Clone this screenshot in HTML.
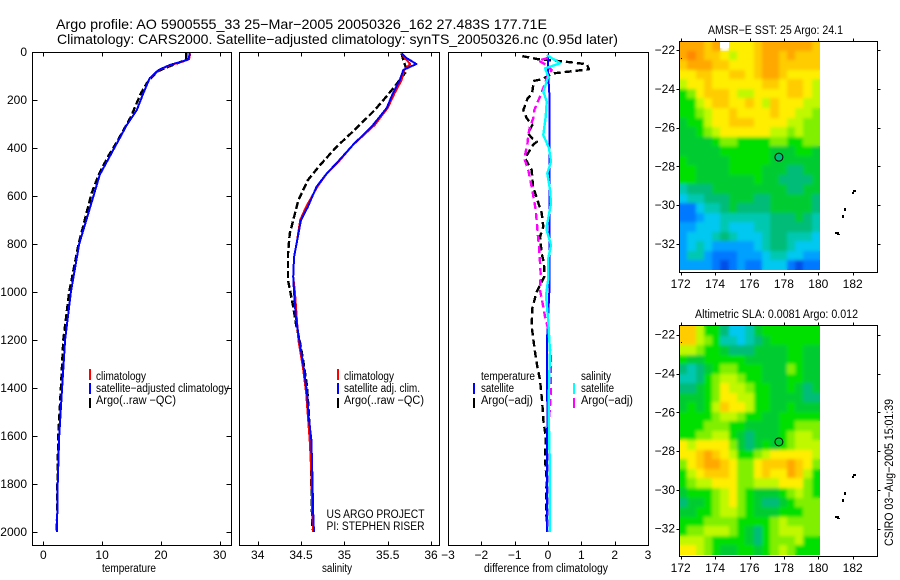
<!DOCTYPE html>
<html lang="en">
<head>
<meta charset="utf-8">
<title>Argo profile chart</title>
<style>
html,body{margin:0;padding:0;background:#fff;}
svg{display:block;font-family:"Liberation Sans",Arial,sans-serif;fill:#000;}
.frame{fill:none;stroke:#000;stroke-width:1;shape-rendering:crispEdges;}
.tick{stroke:#000;stroke-width:1;shape-rendering:crispEdges;}
.trace{fill:none;stroke-linejoin:round;shape-rendering:crispEdges;}
.tl{font-size:12px;}
.leg{font-size:11.5px;}
.ttl{font-size:14px;}
.axl{font-size:11.5px;}
.mttl{font-size:11.5px;}
</style>
</head>
<body>
<svg id="chart" width="900" height="580" viewBox="0 0 900 580" xmlns="http://www.w3.org/2000/svg">
<defs>
  <filter id="cell-soften" x="-5%" y="-5%" width="110%" height="110%"><feGaussianBlur stdDeviation="1.6"/></filter>
  <clipPath id="sst-clip"><rect x="679" y="42" width="141" height="228"/></clipPath>
  <clipPath id="sla-clip"><rect x="679" y="326" width="141" height="229"/></clipPath>
</defs>
<rect x="0" y="0" width="900" height="580" fill="#fff"/>
<text class="ttl" x="56" y="29" textLength="491" lengthAdjust="spacingAndGlyphs">Argo profile: AO 5900555_33 25−Mar−2005 20050326_162 27.483S 177.71E</text>
<text class="ttl" x="57" y="44" textLength="561" lengthAdjust="spacingAndGlyphs">Climatology: CARS2000. Satellite−adjusted climatology: synTS_20050326.nc (0.95d later)</text>

<g>
  <g id="temp-ticks"></g>
  <polyline id="temp-argo" class="trace" stroke="#000" stroke-width="2.4" stroke-dasharray="7 3"/>
  <polyline id="temp-clim" class="trace" stroke="#f00" stroke-width="2"/>
  <polyline id="temp-sat" class="trace" stroke="#00f" stroke-width="2"/>
  <rect class="frame" x="32.5" y="52.5" width="199" height="493"/>
  <g>
    <rect x="89" y="369" width="2" height="11" fill="#f00"/>
    <rect x="89" y="383" width="2" height="11" fill="#00f"/>
    <rect x="89" y="398" width="2" height="10" fill="#000"/>
    <text class="leg" x="96" y="380" textLength="50" lengthAdjust="spacingAndGlyphs">climatology</text>
    <text class="leg" x="96" y="392" textLength="133" lengthAdjust="spacingAndGlyphs">satellite−adjusted climatology</text>
    <text class="leg" x="96" y="404" textLength="80" lengthAdjust="spacingAndGlyphs">Argo(..raw −QC)</text>
  </g>
  <text class="axl" x="102" y="572" textLength="54" lengthAdjust="spacingAndGlyphs">temperature</text>
</g>

<g>
  <g id="sal-ticks"></g>
  <polyline id="sal-argo" class="trace" stroke="#000" stroke-width="2.4" stroke-dasharray="7 3"/>
  <polyline id="sal-clim" class="trace" stroke="#f00" stroke-width="2"/>
  <polyline id="sal-sat" class="trace" stroke="#00f" stroke-width="2"/>
  <rect class="frame" x="239.5" y="52.5" width="200" height="493"/>
  <g>
    <rect x="337" y="369" width="2" height="11" fill="#f00"/>
    <rect x="337" y="383" width="2" height="11" fill="#00f"/>
    <rect x="337" y="398" width="2" height="10" fill="#000"/>
    <text class="leg" x="344" y="380" textLength="50" lengthAdjust="spacingAndGlyphs">climatology</text>
    <text class="leg" x="344" y="392" textLength="76" lengthAdjust="spacingAndGlyphs">satellite adj. clim.</text>
    <text class="leg" x="344" y="404" textLength="80" lengthAdjust="spacingAndGlyphs">Argo(..raw −QC)</text>
  </g>
  <text class="leg" x="326.5" y="518" textLength="98" lengthAdjust="spacingAndGlyphs">US ARGO PROJECT</text>
  <text class="leg" x="326.5" y="530" textLength="98" lengthAdjust="spacingAndGlyphs">PI: STEPHEN RISER</text>
  <text class="axl" x="322" y="572" textLength="30" lengthAdjust="spacingAndGlyphs">salinity</text>
</g>

<g>
  <g id="diff-ticks"></g>
  <polyline id="diff-temp-argo" class="trace" stroke="#000" stroke-width="2.4" stroke-dasharray="7 4"/>
  <polyline id="diff-temp-sat" class="trace" stroke="#00f" stroke-width="2"/>
  <polyline id="diff-sal-argo" class="trace" stroke="#f0f" stroke-width="2.4" stroke-dasharray="7 4"/>
  <polyline id="diff-sal-sat" class="trace" stroke="#0ff" stroke-width="2.4"/>
  <rect class="frame" x="448.5" y="52.5" width="200" height="493"/>
  <g>
    <text class="leg" x="481" y="380" textLength="54" lengthAdjust="spacingAndGlyphs">temperature</text>
    <text class="leg" x="481" y="392" textLength="33" lengthAdjust="spacingAndGlyphs">satellite</text>
    <text class="leg" x="481" y="404" textLength="52" lengthAdjust="spacingAndGlyphs">Argo(−adj)</text>
    <rect x="473" y="383" width="2" height="11" fill="#00f"/>
    <rect x="473" y="398" width="2" height="10" fill="#000"/>
    <text class="leg" x="581" y="380" textLength="30" lengthAdjust="spacingAndGlyphs">salinity</text>
    <text class="leg" x="581" y="392" textLength="33" lengthAdjust="spacingAndGlyphs">satellite</text>
    <text class="leg" x="581" y="404" textLength="52" lengthAdjust="spacingAndGlyphs">Argo(−adj)</text>
    <rect x="573" y="383" width="2" height="11" fill="#0ff"/>
    <rect x="573" y="398" width="2" height="10" fill="#f0f"/>
  </g>
  <text class="axl" x="484" y="572" textLength="124" lengthAdjust="spacingAndGlyphs">difference from climatology</text>
</g>

<g>
  <text class="mttl" x="708" y="34" textLength="135" lengthAdjust="spacingAndGlyphs">AMSR−E SST: 25 Argo: 24.1</text>
  <g id="sst-cells"></g>
  <g clip-path="url(#sst-clip)"><use href="#sst-cells" filter="url(#cell-soften)"/></g>
  <g id="sst-nodata"></g>
  <g id="sst-ticks"></g>
  <rect class="frame" x="679.5" y="41.5" width="198" height="231"/>
  <g fill="#000" shape-rendering="crispEdges">
    <rect x="681" y="58" width="1" height="1"/>
    <rect x="853" y="190" width="3" height="2"/><rect x="852" y="192" width="2" height="2"/>
    <rect x="844" y="208" width="2" height="3"/>
    <rect x="842" y="215" width="2" height="3"/>
    <rect x="835" y="232" width="4" height="2"/><rect x="837" y="234" width="3" height="1"/>
  </g>
  <circle id="sst-marker" r="4" fill="#00bc78" stroke="#000" stroke-width="1"/>
</g>

<g>
  <text class="mttl" x="695" y="318" textLength="163" lengthAdjust="spacingAndGlyphs">Altimetric SLA: 0.0081 Argo: 0.012</text>
  <g id="sla-cells"></g>
  <g clip-path="url(#sla-clip)"><use href="#sla-cells" filter="url(#cell-soften)"/></g>
  <g id="sla-nodata"></g>
  <g id="sla-ticks"></g>
  <rect class="frame" x="679.5" y="325.5" width="198" height="231"/>
  <g fill="#000" shape-rendering="crispEdges">
    <rect x="681" y="342" width="1" height="1"/>
    <rect x="853" y="474" width="3" height="2"/><rect x="852" y="476" width="2" height="2"/>
    <rect x="844" y="492" width="2" height="3"/>
    <rect x="842" y="499" width="2" height="3"/>
    <rect x="835" y="516" width="4" height="2"/><rect x="837" y="518" width="3" height="1"/>
  </g>
  <circle id="sla-marker" r="4" fill="#00cc30" stroke="#000" stroke-width="1"/>
</g>

<text class="tl" transform="translate(893,546) rotate(-90)" textLength="147" lengthAdjust="spacingAndGlyphs">CSIRO 03−Aug−2005 15:01:39</text>

<script>
// Tick labels
const depthTicks = [0,200,400,600,800,1000,1200,1400,1600,1800,2000];
const tempTicks = [0,10,20,30];
const salTicks = [34,34.5,35,35.5,36];
const diffTicks = [-3,-2,-1,0,1,2,3];
const lonTicks = [172,174,176,178,180,182];
const latTicks = [-22,-24,-26,-28,-30,-32];

// Temperature panel
const tempDepth = [5,30,40,54,75,109,172,242,304,395,512,603,800,1000,1200,1400,1600,1800,2000];
const tempClim = [25.0,24.8,23.7,21.6,19.7,18.1,17.0,15.9,14.2,12.2,9.6,8.5,6.1,4.7,3.7,3.2,2.7,2.45,2.33];
const tempSat = [24.9,24.7,23.5,21.5,19.6,18.1,17.0,15.9,14.2,12.2,9.6,8.5,6.1,4.7,3.7,3.2,2.7,2.45,2.33];
const tempArgoDepth = [5,30,40,65,82,130,172,270,380,436,512,590,800,1000,1200,1400,1600,1800,2000];
const tempArgo = [24.3,24.3,23.5,20.9,19.3,17.6,16.6,14.9,12.4,11.0,9.4,8.2,6.0,4.4,3.4,3.0,2.55,2.4,2.3];

// Salinity panel
const salDepth = [6,26,50,75,117,172,233,304,387,463,505,561,644,700,796,853,936,1004,1103,1200,1311,1422,1525,1617,1755,1921,2000];
const salClim = [35.66,35.70,35.76,35.69,35.66,35.58,35.50,35.35,35.10,34.92,34.80,34.69,34.56,34.49,34.45,34.42,34.41,34.43,34.45,34.47,34.52,34.56,34.58,34.60,34.62,34.63,34.64];
const salSat = [35.66,35.72,35.83,35.68,35.64,35.56,35.49,35.33,35.10,34.91,34.80,34.68,34.58,34.50,34.45,34.42,34.41,34.42,34.44,34.48,34.53,34.57,34.59,34.62,34.63,34.64,34.65];
const salArgoDepth = [6,33,54,78,144,192,242,317,395,471,533,617,714,756,839,950,1025,1061,1130,1214,1297,1395,1505,1630,1800,1990];
const salArgo = [35.66,35.68,35.70,35.72,35.58,35.47,35.35,35.14,34.91,34.72,34.58,34.47,34.40,34.37,34.35,34.35,34.39,34.41,34.44,34.49,34.53,34.57,34.59,34.61,34.62,34.63];

// Difference panel
const diffTempArgoDepth = [17,30,40,51,72,82,89,114,120,144,175,193,242,276,304,339,360,374,387,443,492,561,671,728,770,839,880,936,999,1067,1144,1228,1297,1367,1463,1533,1603,1700,1780,1867,1971];
const diffTempArgo = [-0.77,-0.3,0.5,1.16,1.23,0.6,0.15,-0.19,-0.42,-0.45,-0.48,-0.61,-0.74,-0.64,-0.47,-0.6,-0.47,-0.34,-0.45,-0.69,-0.49,-0.45,-0.19,-0.14,-0.24,-0.19,-0.12,-0.11,-0.34,-0.47,-0.49,-0.41,-0.34,-0.24,-0.17,-0.14,-0.07,-0.09,-0.04,-0.06,-0.04];
const diffTempSatDepth = [10,100,200,1000,1200,1500,2000];
const diffTempSat = [0,0.01,0.05,0.04,-0.03,-0.02,-0.03];
const diffSalArgoDepth = [25,36,54,75,96,150,186,242,276,311,346,387,443,492,575,658,733,756,811,874,929,992,1049,1103,1158,1283,1422,1530,1900,2000];
const diffSalArgo = [0,-0.29,-0.04,0.11,0,-0.14,-0.24,-0.41,-0.44,-0.54,-0.59,-0.62,-0.71,-0.59,-0.47,-0.37,-0.32,-0.31,-0.27,-0.24,-0.22,-0.24,-0.16,-0.09,0.01,0.09,0.09,0.03,0.03,0.02];
const diffSalSatDepth = [12,47,68,103,165,207,270,346,401,457,505,575,631,728,742,804,860,944,1014,1124,1250,1389,1514,1700,2000];
const diffSalSat = [-0.04,0.36,-0.09,0.01,-0.14,-0.04,-0.07,-0.14,0.03,0.09,-0.02,0.06,0.09,-0.04,-0.04,0.09,0.01,0.01,-0.06,0.01,0.06,0.03,0.02,0.05,0.05];

// Float position
const floatLon = [177.71];
const floatLat = [-27.483];

// Heatmap colour levels
const levelColors = ['#0050e8','#0078ff','#00a0ff','#00c8f0','#00c8b0','#00bc78','#00cc30','#00e000','#80f000','#c0f800','#ffee00','#ffcc00','#ffa800','#ff8800'];

// SST heatmap: colour level per cell, north to south (-1 = no data)
const sstRows = [
[12,12,12,11,12,-1,10,10,10,11,12,12,12,12,12,12,11],
[12,13,12,11,11,10,9,10,10,11,12,12,11,12,11,11,11],
[11,12,12,12,11,11,10,10,10,11,12,12,11,11,11,11,11],
[10,10,11,11,10,10,11,11,10,11,12,12,11,10,10,10,10],
[9,10,10,11,10,10,10,10,10,10,11,11,10,11,11,10,9],
[7,8,10,11,11,11,10,9,9,10,10,10,10,11,11,10,9],
[7,7,9,10,11,11,10,10,11,10,9,11,10,10,10,9,9],
[7,7,8,9,10,10,11,10,10,10,10,11,10,10,9,9,8],
[6,7,7,9,10,10,11,11,11,10,10,10,10,9,9,8,8],
[6,6,7,8,9,10,10,10,10,10,10,9,9,8,9,8,8],
[6,6,6,6,7,8,8,7,7,7,7,8,8,7,7,8,8],
[6,6,6,6,6,7,7,7,7,7,7,6,6,6,7,7,6],
[7,6,6,6,6,6,7,7,7,7,7,6,6,6,6,6,6],
[7,7,6,6,6,6,7,7,7,7,6,6,6,5,5,6,6],
[7,7,6,6,6,6,6,6,6,7,6,6,5,5,5,5,6],
[4,5,5,5,6,6,6,6,6,6,6,6,6,5,5,6,6],
[3,4,4,5,5,5,6,6,6,5,5,6,6,6,6,6,5],
[1,1,3,4,4,5,6,5,5,5,5,6,6,6,6,6,5],
[1,1,2,3,3,4,4,4,4,4,4,5,5,5,6,5,4],
[2,2,3,3,3,4,3,3,3,4,4,5,5,5,5,5,4],
[2,3,3,3,4,5,4,3,3,3,4,5,5,4,4,4,3],
[2,3,4,3,2,2,2,2,2,3,4,5,5,4,3,3,3],
[2,4,4,2,1,1,1,2,2,2,3,4,4,3,3,2,2],
[2,2,2,2,1,0,1,2,1,1,3,3,3,1,0,1,1]
];

// SLA heatmap: colour level per cell, north to south
const slaRows = [
[11,11,9,7,7,5,3,3,4,6,7,7,7,7,7,7,7],
[11,11,9,8,7,4,4,3,4,5,6,7,7,7,7,7,7],
[9,9,8,7,7,6,5,5,5,6,6,6,6,7,7,6,6],
[7,6,6,7,7,7,7,7,6,6,6,6,6,7,7,6,6],
[5,4,5,6,7,8,8,7,7,7,6,6,6,8,7,6,6],
[4,4,5,7,8,9,9,8,7,7,6,6,6,7,7,6,6],
[5,5,6,7,8,10,9,9,8,7,7,6,6,7,6,5,6],
[6,6,6,7,8,10,10,9,9,7,7,6,6,6,6,5,5],
[6,7,6,7,9,11,10,10,9,7,7,6,6,7,6,6,6],
[7,7,7,7,8,9,9,8,7,7,6,6,7,7,7,7,7],
[7,7,7,8,8,8,7,7,6,6,6,6,7,7,8,8,8],
[7,7,8,8,9,9,7,6,5,6,6,6,7,8,9,9,8],
[10,9,10,10,10,10,8,6,5,6,7,6,7,8,9,9,9],
[10,10,11,12,11,10,9,7,7,8,9,10,10,10,10,10,9],
[8,10,11,12,12,11,10,8,8,10,11,11,11,12,11,10,8],
[7,9,10,11,11,11,10,8,8,10,11,10,10,12,11,9,7],
[7,8,9,9,10,10,10,8,8,9,9,9,10,10,10,8,7],
[6,7,7,7,8,9,10,8,7,6,6,6,7,8,9,8,7],
[5,6,6,7,8,9,10,8,7,6,5,5,6,7,8,8,8],
[6,6,7,7,8,9,9,8,7,6,6,6,7,7,7,8,8],
[7,7,7,8,8,8,8,7,7,7,7,8,9,8,8,8,8],
[7,8,8,9,9,9,8,7,6,5,7,8,9,9,9,8,8],
[9,9,9,8,7,7,7,7,6,5,7,8,8,8,9,7,7],
[10,10,9,8,7,6,6,7,7,6,7,8,9,8,7,7,7]
];

// Axis functions
function depthY(d){ return 52 + d * 0.24; }
function tempX(t){ return 43.3 + t * 5.88; }
function salX(s){ return 257.7 + (s - 34) * 86.67; }
function diffX(v){ return 548 + v * 33.33; }
function lonX(lon){ return 680.7 + (lon - 172) * 17.2; }
function sstLatY(lat){ return 50 + (-22 - lat) * 19.4; }
function slaLatY(lat){ return 334.7 + (-22 - lat) * 19.4; }

const SVGNS = 'http://www.w3.org/2000/svg';
function line(parent, x1, y1, x2, y2){
  const el = document.createElementNS(SVGNS, 'line');
  
  
  el.setAttribute('class', 'tick');
  el.setAttribute('x1', Math.round(x1) + 0.5);
  el.setAttribute('y1', Math.round(y1) + 0.5);
  el.setAttribute('x2', Math.round(x2) + 0.5);
  el.setAttribute('y2', Math.round(y2) + 0.5);
  parent.appendChild(el);
}
function label(parent, x, y, anchor, str){
  const el = document.createElementNS(SVGNS, 'text');
  
  
  el.setAttribute('class', 'tl');
  el.setAttribute('x', x);
  el.setAttribute('y', y);
  el.setAttribute('text-anchor', anchor);
  el.textContent = str;
  parent.appendChild(el);
}
function fmtMinus(v){ return String(v).replace('-', '\u2212'); }

function plotTrace(id, xFn, depths, values){
  const pts = depths.map(function(d, i){ return xFn(values[i]).toFixed(1) + ',' + depthY(d).toFixed(1); });
  document.getElementById(id).setAttribute('points', pts.join(' '));
}

function xAxis(groupId, ticks, xFn, left, right){
  const g = document.getElementById(groupId);
  ticks.forEach(function(t){
    const x = xFn(t);
    if (x > left + 1 && x < right - 1) {
      line(g, x, 52, x, 56);
      line(g, x, 541, x, 545);
    }
    label(g, x, 559, 'middle', fmtMinus(t));
  });
}

// Profile panels
xAxis('temp-ticks', tempTicks, tempX, 32, 231);
xAxis('sal-ticks', salTicks, salX, 239, 440);
xAxis('diff-ticks', diffTicks, diffX, 448, 648);
(function(){
  const g = document.getElementById('temp-ticks');
  depthTicks.forEach(function(d){
    const y = depthY(d);
    line(g, 32, y, 37, y);
    line(g, 226, y, 231, y);
    label(g, 27, y + 4, 'end', String(d));
  });
})();

plotTrace('temp-argo', tempX, tempArgoDepth, tempArgo);
plotTrace('temp-clim', tempX, tempDepth, tempClim);
plotTrace('temp-sat', tempX, tempDepth, tempSat);
plotTrace('sal-argo', salX, salArgoDepth, salArgo);
plotTrace('sal-clim', salX, salDepth, salClim);
plotTrace('sal-sat', salX, salDepth, salSat);
plotTrace('diff-temp-argo', diffX, diffTempArgoDepth, diffTempArgo);
plotTrace('diff-temp-sat', diffX, diffTempSatDepth, diffTempSat);
plotTrace('diff-sal-argo', diffX, diffSalArgoDepth, diffSalArgo);
plotTrace('diff-sal-sat', diffX, diffSalSatDepth, diffSalSat);

// Maps
const cellLonStart = 171.9;
const cellLonEnd = 180.1;
const cellLatStart = -21.55;
const cellLatEnd = -33.34;

function drawHeatmap(groupId, noDataId, rows, latY){
  const g = document.getElementById(groupId);
  const gap = document.getElementById(noDataId);
  const dLon = (cellLonEnd - cellLonStart) / rows[0].length;
  const dLat = (cellLatStart - cellLatEnd) / rows.length;
  rows.forEach(function(row, r){
    const yTop = Math.round(latY(cellLatStart - r * dLat));
    const yBot = Math.round(latY(cellLatStart - (r + 1) * dLat));
    row.forEach(function(v, c){
      const xL = Math.round(lonX(cellLonStart + c * dLon));
      const xR = Math.round(lonX(cellLonStart + (c + 1) * dLon));
      if (v < 0) {
        const blank = document.createElementNS(SVGNS, 'rect');
        
        
        blank.setAttribute('x', xL);
        blank.setAttribute('y', yTop);
        blank.setAttribute('width', xR - xL);
        blank.setAttribute('height', Math.round((yBot - yTop) * 0.65));
        blank.setAttribute('fill', '#fff');
        gap.appendChild(blank);
        return;
      }
      const el = document.createElementNS(SVGNS, 'rect');
      
      
      el.setAttribute('x', xL);
      el.setAttribute('y', yTop);
      el.setAttribute('width', xR - xL);
      el.setAttribute('height', yBot - yTop);
      el.setAttribute('fill', levelColors[v]);
      el.setAttribute('shape-rendering', 'crispEdges');
      g.appendChild(el);
    });
  });
}
function mapAxes(groupId, latY, top, bottom){
  const g = document.getElementById(groupId);
  lonTicks.forEach(function(lon){
    const x = lonX(lon);
    line(g, x, top - 3, x, top);
    line(g, x, bottom, x, bottom + 3);
    label(g, x, bottom + 16, 'middle', String(lon));
  });
  latTicks.forEach(function(lat){
    const y = latY(lat);
    line(g, 676, y, 679, y);
    line(g, 877, y, 880, y);
    label(g, 675, y + 4, 'end', fmtMinus(lat));
  });
}
drawHeatmap('sst-cells', 'sst-nodata', sstRows, sstLatY);
drawHeatmap('sla-cells', 'sla-nodata', slaRows, slaLatY);
mapAxes('sst-ticks', sstLatY, 41, 272);
mapAxes('sla-ticks', slaLatY, 325, 556);
const sstMarker = document.getElementById('sst-marker');
sstMarker.setAttribute('cx', lonX(floatLon[0]));
sstMarker.setAttribute('cy', sstLatY(floatLat[0]) + 0.8);
const slaMarker = document.getElementById('sla-marker');
slaMarker.setAttribute('cx', lonX(floatLon[0]));
slaMarker.setAttribute('cy', slaLatY(floatLat[0]) + 0.8);
</script>
</svg>
</body>
</html>
